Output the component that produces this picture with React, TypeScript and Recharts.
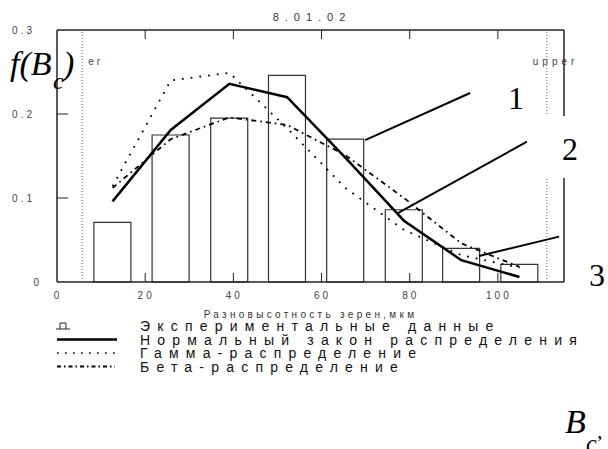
import React from 'react';
import {
  ComposedChart,
  Bar,
  Line,
  XAxis,
  YAxis,
  ReferenceLine,
  Legend,
} from 'recharts';

// bin centres (мкм) and histogram heights
const binCenters = [12.6, 25.8, 39.1, 52.2, 65.4, 78.7, 91.7, 104.9];
const experimental = [0.071, 0.175, 0.195, 0.246, 0.17, 0.086, 0.04, 0.021];

// fitted densities at the same centres
const normalLaw = [0.096, 0.181, 0.236, 0.22, 0.148, 0.073, 0.026, 0.006];
const gammaDist = [0.114, 0.24, 0.249, 0.183, 0.112, 0.062, 0.032, 0.017];
const betaDist = [0.112, 0.17, 0.196, 0.187, 0.151, 0.1, 0.046, 0.018];

const xTicks = [0, 20, 40, 60, 80, 100];
const yTicks = [0, 0.1, 0.2, 0.3];

const lowerLimit = 5.7;
const upperLimit = 111.1;

// pointer lines from the numbered labels to the curves
const pointers = [
  [{ x: 69.9, y: 0.169 }, { x: 93.7, y: 0.225 }],
  [{ x: 77.3, y: 0.082 }, { x: 106.6, y: 0.167 }],
  [{ x: 95.7, y: 0.031 }, { x: 113.9, y: 0.054 }],
];

const legendLabels = [
  'Экспериментальные данные',
  'Нормальный закон распределения',
  'Гамма-распределение',
  'Бета-распределение',
];

const data = binCenters.map((x, i) => ({
  x,
  exp: experimental[i],
  normal: normalLaw[i],
  gamma: gammaDist[i],
  beta: betaDist[i],
}));

const TICK_FONT = 'Liberation Sans, Arial, sans-serif';
const SERIF = 'Liberation Serif, Times New Roman, serif';
const INK = '#222';

const BottomTick = ({ x, y, payload }: any) => (
  <g>
    {payload.value > 0 && <line x1={x} x2={x} y1={y} y2={y - 9} stroke={INK} />}
    <text x={x + 1} y={y + 17} textAnchor="middle" fontSize={10} letterSpacing={3} fill="#444" fontFamily={TICK_FONT}>
      {payload.value}
    </text>
  </g>
);

const TopTick = ({ x, y, payload }: any) =>
  payload.value > 0 ? <line x1={x} x2={x} y1={y} y2={y + 9} stroke={INK} /> : <g />;

const LeftTick = ({ x, y, payload }: any) => {
  const v = payload.value;
  const inner = v > 0 && v < 0.3;
  return (
    <g>
      {inner && <line x1={x} x2={x + 11} y1={y} y2={y} stroke={INK} />}
      <text
        x={v === 0 ? x - 15 : x - 22}
        y={y + 4}
        textAnchor="end"
        fontSize={10}
        letterSpacing={3}
        fill="#444"
        fontFamily={TICK_FONT}
      >
        {v === 0 ? '0' : v.toFixed(1)}
      </text>
    </g>
  );
};

const RightTick = ({ x, y }: any) => <line x1={x} x2={x - 11} y1={y} y2={y} stroke={INK} />;

const renderLegend = () => (
  <svg width={608} height={70}>
    {legendLabels.map((label, i) => {
      const cy = i * 13.5 + 8;
      let symbol: React.ReactNode = null;
      if (i === 0) {
        symbol = (
          <g stroke={INK} fill="none">
            <line x1={56} x2={70} y1={cy + 3} y2={cy + 3} />
            <polyline points={`${60},${cy + 3} ${60},${cy - 3} ${66},${cy - 3} ${66},${cy + 3}`} />
          </g>
        );
      } else if (i === 1) {
        symbol = <line x1={57} x2={117} y1={cy} y2={cy} stroke="#000" strokeWidth={2.5} />;
      } else if (i === 2) {
        symbol = <line x1={57} x2={115} y1={cy} y2={cy} stroke="#000" strokeWidth={1.6} strokeDasharray="1.6 6.4" />;
      } else {
        symbol = <line x1={57} x2={115} y1={cy} y2={cy} stroke="#000" strokeWidth={1.8} strokeDasharray="4 3 1.5 3" />;
      }
      return (
        <g key={label}>
          {symbol}
          <text x={140} y={cy + 5} fontSize={14} letterSpacing={7.2} fill="#111" fontFamily={TICK_FONT}>
            {label}
          </text>
        </g>
      );
    })}
  </svg>
);

export default function App() {
  return (
    <div style={{ position: 'absolute', left: 0, top: 0, width: 608, height: 449, background: '#fff', overflow: 'hidden' }}>
      <ComposedChart
        width={608}
        height={449}
        data={data}
        margin={{ top: 0, right: 0, bottom: 0, left: 0 }}
        style={{ fontFamily: TICK_FONT }}
      >
        <XAxis
          dataKey="x"
          type="number"
          domain={[0, 115]}
          ticks={xTicks}
          interval={0}
          height={167}
          tickSize={0}
          tickMargin={0}
          tick={<BottomTick />}
          axisLine={{ stroke: INK, strokeWidth: 1.5 }}
          label={{
            value: 'Разновысотность зерен,мкм',
            position: 'insideTop',
            offset: 29,
            fontSize: 10,
            letterSpacing: 3.3,
            fill: '#333',
          }}
        />
        <XAxis
          xAxisId="top"
          orientation="top"
          dataKey="x"
          type="number"
          domain={[0, 115]}
          ticks={xTicks}
          interval={0}
          height={30}
          tickSize={0}
          tickMargin={0}
          tick={<TopTick />}
          axisLine={{ stroke: INK, strokeWidth: 1.5 }}
        />
        <YAxis
          type="number"
          domain={[0, 0.3]}
          ticks={yTicks}
          interval={0}
          width={57}
          tickSize={0}
          tickMargin={0}
          tick={<LeftTick />}
          axisLine={{ stroke: INK, strokeWidth: 1.5 }}
        />
        <YAxis
          yAxisId="right"
          orientation="right"
          type="number"
          domain={[0, 0.3]}
          ticks={[0.1, 0.2]}
          interval={0}
          width={44}
          tickSize={0}
          tickMargin={0}
          tick={<RightTick />}
          axisLine={{ stroke: INK, strokeWidth: 1.5 }}
        />

        <ReferenceLine
          x={lowerLimit}
          stroke="#666"
          strokeDasharray="1 2"
          label={({ viewBox }: any) => (
            <text x={viewBox.x + 6} y={65} fontSize={10} letterSpacing={3} fill="#444" fontFamily={TICK_FONT}>
              er
            </text>
          )}
        />
        <ReferenceLine
          x={upperLimit}
          stroke="#666"
          strokeDasharray="1 2"
          label={({ viewBox }: any) => (
            <text x={viewBox.x - 14} y={65} fontSize={10} letterSpacing={4} fill="#444" fontFamily={TICK_FONT}>
              upper
            </text>
          )}
        />

        <Bar dataKey="exp" barSize={37} fill="none" stroke="#333" strokeWidth={1.2} isAnimationActive={false} />
        <Line type="linear" dataKey="gamma" stroke="#000" strokeWidth={1.8} strokeDasharray="1.8 7" dot={false} isAnimationActive={false} />
        <Line type="linear" dataKey="beta" stroke="#000" strokeWidth={1.8} strokeDasharray="5 4 1.6 4" dot={false} isAnimationActive={false} />
        <Line type="linear" dataKey="normal" stroke="#000" strokeWidth={2.5} dot={false} isAnimationActive={false} />

        {pointers.map((seg, i) => (
          <ReferenceLine key={i} segment={seg} stroke="#000" strokeWidth={2} ifOverflow="visible" />
        ))}

        <Legend
          layout="vertical"
          align="center"
          verticalAlign="middle"
          wrapperStyle={{ position: 'absolute', left: 0, top: 318, width: 608, height: 70 }}
          content={renderLegend}
        />
      </ComposedChart>

      <svg width={608} height={449} style={{ position: 'absolute', left: 0, top: 0, pointerEvents: 'none' }}>
        <text x={312} y={21} textAnchor="middle" fontSize={11} letterSpacing={6} fill="#333" fontFamily={TICK_FONT}>
          8.01.02
        </text>

        <g fontFamily={SERIF} fontStyle="italic" fill="#000">
          <text x={10} y={75} fontSize={34}>f(B</text>
          <text x={53} y={89} fontSize={24}>c</text>
          <text x={63} y={75} fontSize={34}>)</text>

          <text x={565} y={433} fontSize={34}>B</text>
          <text x={586} y={451} fontSize={24}>c</text>
          <text x={597} y={438} fontSize={22}>,</text>
        </g>

        <rect x={538} y={116} width={62} height={62} fill="#fff" />
        <g fontFamily={SERIF} fontSize={32} fill="#000">
          <text x={508} y={109}>1</text>
          <text x={562} y={160}>2</text>
          <text x={589} y={286}>3</text>
        </g>
      </svg>
    </div>
  );
}
